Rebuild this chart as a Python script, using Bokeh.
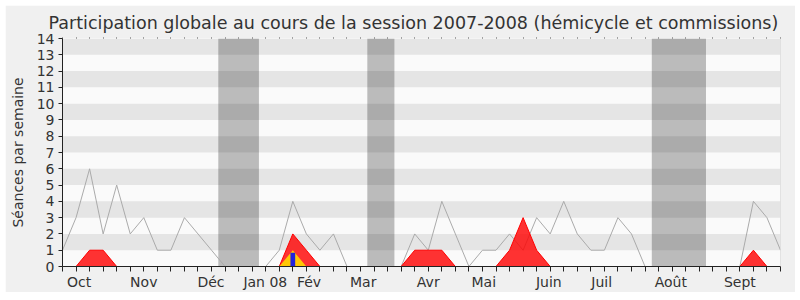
from bokeh.plotting import figure
from bokeh.models import BoxAnnotation, FixedTicker, Span, LinearAxis
from bokeh.embed import file_html
from bokeh.resources import INLINE

# ---- data ----
weeks = list(range(54))
total = [1, 3, 6, 2, 5, 2, 3, 1, 1, 3, 2, 1, 0, 0, 0, 0, 1, 4, 2, 1, 2, 0, 0, 0, 0, 0,
         2, 1, 4, 2, 0, 1, 1, 2, 1, 3, 2, 4, 2, 1, 1, 3, 2, 0, 0, 0, 0, 0, 0, 0, 0, 4, 3, 1]
hemicycle = [0, 0, 1, 1, 0, 0, 0, 0, 0, 0, 0, 0, 0, 0, 0, 0, 0, 2, 1, 0, 0, 0, 0, 0, 0, 0,
             1, 1, 1, 0, 0, 0, 0, 1, 3, 1, 0, 0, 0, 0, 0, 0, 0, 0, 0, 0, 0, 0, 0, 0, 0, 1, 0, 0]
questions = [0] * 17 + [1] + [0] * 36
bar_week = [17]
bar_value = [0.85]
holidays_start = [11.5, 22.5, 43.5]
holidays_end = [14.5, 24.5, 47.5]
month_labels = ["Oct", "Nov", "Déc", "Jan 08", "Fév", "Mar", "Avr", "Mai", "Juin", "Juil", "Août", "Sept"]
month_pos = [1.23, 6.0, 10.96, 14.97, 18.2, 22.2, 27.0, 31.1, 35.9, 39.8, 44.9, 50.0]
y_ticks = list(range(15))

FONT = "DejaVu Sans"

p = figure(width=790, height=287, x_range=(0, 53), y_range=(0, 14),
           output_backend="svg", toolbar_location=None,
           min_border_left=57, min_border_right=15, min_border_top=31, min_border_bottom=26,
           background_fill_color="#fafafa", border_fill_color="#f0f0f0",
           outline_line_color=None,
           title="Participation globale au cours de la session 2007-2008 (hémicycle et commissions)")
p.margin = (5, 5, 8, 5)
p.styles = {"border-radius": "8px"}

p.title.text_font = FONT
p.title.text_font_size = "17.5px"
p.title.text_font_style = "normal"
p.title.text_color = "#333333"
p.title.align = "left"
p.title.offset = -14

p.grid.visible = False

# stripes
for b in range(1, 14, 2):
    p.add_layout(BoxAnnotation(bottom=b, top=b + 1, fill_color="#e5e5e5", fill_alpha=1,
                               line_color=None, level="underlay"))
for s, e in zip(holidays_start, holidays_end):
    p.add_layout(BoxAnnotation(left=s, right=e, fill_color="#000000", fill_alpha=0.25,
                               line_color=None, level="underlay"))

p.line(weeks, total, line_color="#aaaaaa", line_width=1)
p.varea(x=weeks, y1=0, y2=hemicycle, fill_color="#ff0000", fill_alpha=0.8)
p.line(weeks, hemicycle, line_color="#ff0000", line_width=1)
p.varea(x=weeks, y1=0, y2=questions, fill_color="#ffd700", fill_alpha=0.9)
p.vbar(x=bar_week, width=0.35, top=bar_value, fill_color="#2222dd", line_color=None)

p.add_layout(Span(location=53, dimension="height", line_color="#cccccc", line_width=1))

# axes
xa = p.xaxis[0]
xa.ticker = FixedTicker(ticks=month_pos, minor_ticks=weeks)
xa.major_label_overrides = {pos: lab for pos, lab in zip(month_pos, month_labels)}
xa.major_tick_out = 0
xa.major_tick_in = 0
xa.minor_tick_out = 5
xa.minor_tick_in = 0
xa.minor_tick_line_color = "#222222"
xa.axis_line_color = "#222222"
xa.major_label_standoff = 2
xa.major_label_text_font = FONT
xa.major_label_text_font_size = "14px"
xa.major_label_text_color = "#333333"

ya = p.yaxis[0]
ya.ticker = FixedTicker(ticks=y_ticks)
ya.minor_tick_line_color = None
ya.major_tick_out = 4
ya.major_tick_in = 0
ya.major_label_standoff = 4
ya.major_label_text_font = FONT
ya.major_label_text_font_size = "14px"
ya.major_label_text_color = "#333333"
ya.axis_line_color = "#222222"
ya.major_tick_line_color = "#222222"
ya.axis_label = "Séances par semaine"
ya.axis_label_text_font = FONT
ya.axis_label_text_font_size = "14px"
ya.axis_label_text_font_style = "normal"
ya.axis_label_text_color = "#333333"
ya.axis_label_standoff = 8

top_axis = LinearAxis(ticker=FixedTicker(ticks=[], minor_ticks=weeks),
                      axis_line_color=None, major_tick_line_color=None,
                      minor_tick_out=1, minor_tick_in=0, minor_tick_line_color="#555555",
                      major_label_text_font_size="0px")
p.add_layout(top_axis, "above")

open("out.html", "w").write(file_html(p, INLINE))
